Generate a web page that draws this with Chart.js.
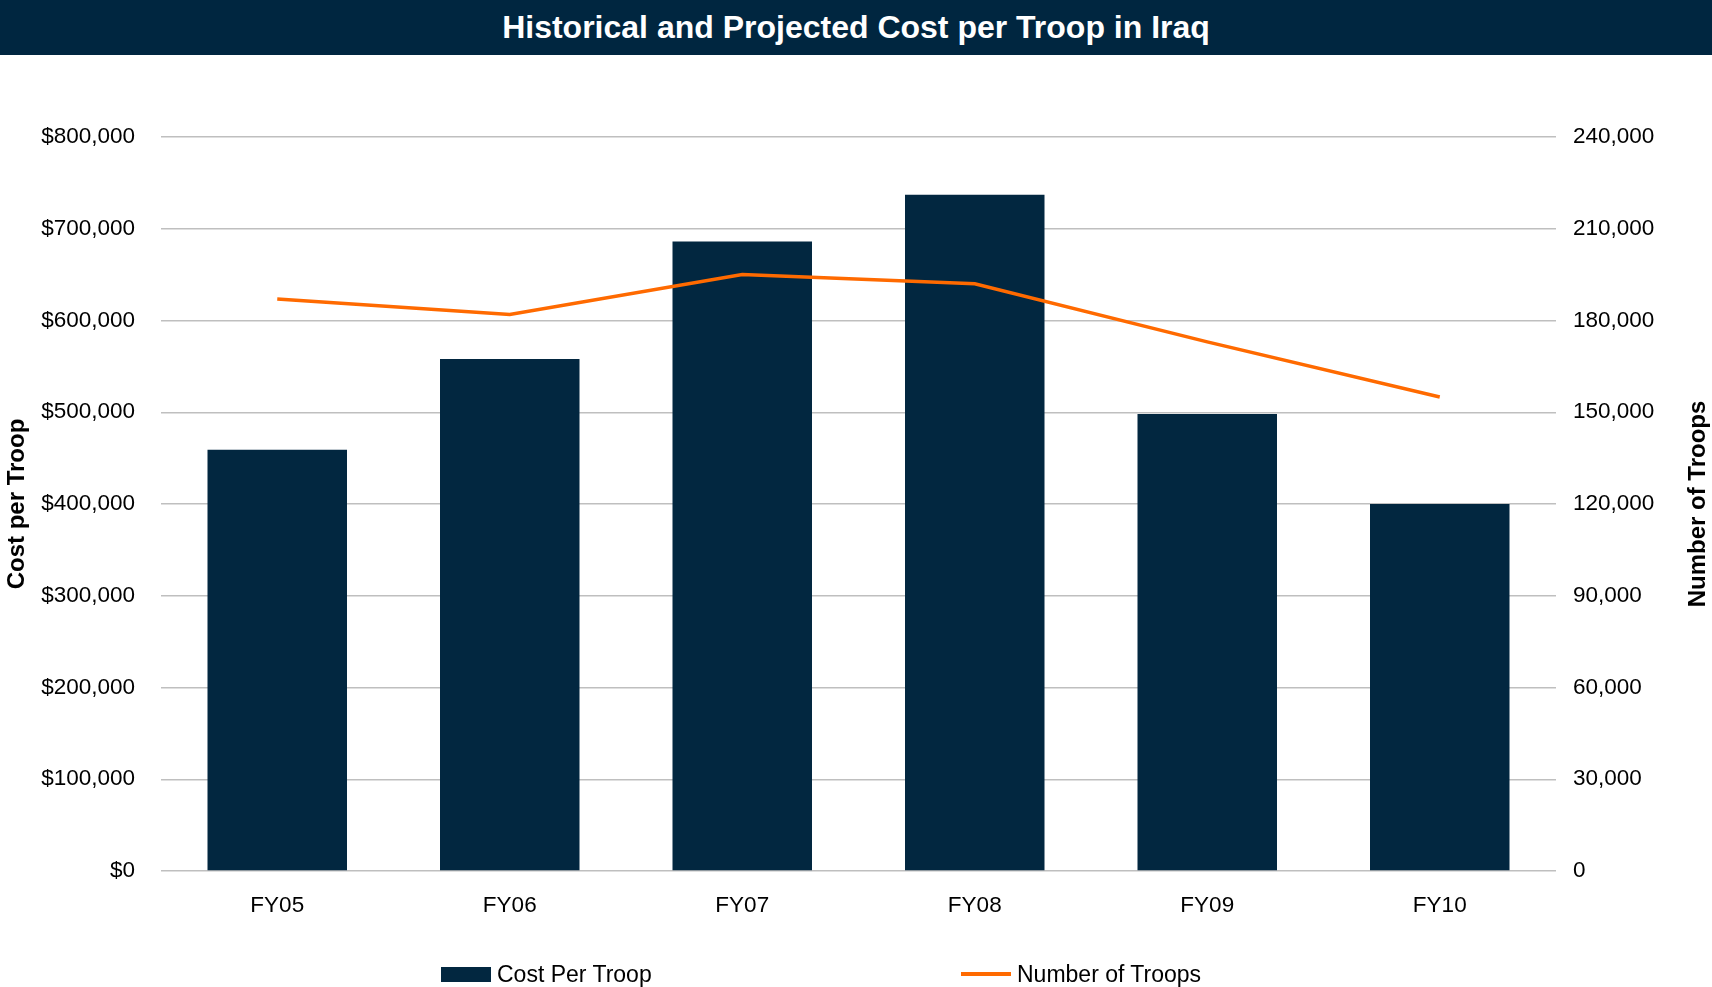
<!DOCTYPE html>
<html>
<head>
<meta charset="utf-8">
<script src="https://cdn.jsdelivr.net/npm/chart.js@4"></script>
<style>
  body { margin: 0; background: #fff; font-family: "Liberation Sans", Arial, sans-serif; }
  #titleBar { width: 1712px; height: 55px; background: #002640; color: #fff; font-weight: bold;
    font-size: 32px; line-height: 55px; text-align: center; }
  #wrap { position: relative; width: 1712px; height: 932px; }
  #legend { position: absolute; left: 0; top: 906px; width: 1712px; height: 26px; }
  .item { position: absolute; top: 0; height: 26px; display: flex; align-items: center; font-size: 23px; color: #000; }
  .swatch { width: 50px; margin-right: 6px; }
</style>
</head>
<body>
<div id="titleBar">Historical and Projected Cost per Troop in Iraq</div>
<div id="wrap">
  <canvas id="myChart" width="1712" height="932"></canvas>
  <div id="legend"></div>
</div>
<script>
const categories = ['FY05', 'FY06', 'FY07', 'FY08', 'FY09', 'FY10'];
const costPerTroop = [459000, 558000, 686000, 737000, 498000, 400000];
const numberOfTroops = [187000, 182000, 195000, 192000, 173000, 155000];
const costTicks = [0, 100000, 200000, 300000, 400000, 500000, 600000, 700000, 800000];
const troopTicks = [0, 30000, 60000, 90000, 120000, 150000, 180000, 210000, 240000];

const navy = '#022740';
const orange = '#FF6A00';
const tickFont = { family: '"Liberation Sans", Arial, sans-serif', size: 22.5 };
const titleFont = { family: '"Liberation Sans", Arial, sans-serif', size: 24, weight: 'bold' };

// right axis title reads bottom to top in the original, chart.js turns it the other way
const rightTitle = {
  id: 'rightTitle',
  afterDraw(c) {
    const s = c.scales.y1;
    const ctx = c.ctx;
    ctx.save();
    ctx.translate(1698, (s.top + s.bottom) / 2);
    ctx.rotate(-Math.PI / 2);
    ctx.font = 'bold 24px "Liberation Sans", Arial, sans-serif';
    ctx.fillStyle = '#000';
    ctx.textAlign = 'center';
    ctx.textBaseline = 'middle';
    ctx.fillText('Number of Troops', 0, 0);
    ctx.restore();
  }
};

const myChart = document.getElementById('myChart');

let chart = new Chart(myChart, {
  data: {
    labels: categories,
    datasets: [{
      type: 'line',
      label: 'Number of Troops',
      data: numberOfTroops,
      yAxisID: 'y1',
      borderColor: orange,
      backgroundColor: orange,
      borderWidth: 3.5,
      pointRadius: 0,
      tension: 0,
      order: 0
    }, {
      type: 'bar',
      label: 'Cost Per Troop',
      data: costPerTroop,
      yAxisID: 'y',
      backgroundColor: navy,
      categoryPercentage: 1,
      barPercentage: 0.6,
      order: 1
    }]
  },
  options: {
    responsive: false,
    animation: false,
    layout: { padding: { top: 82, bottom: 55, left: 0, right: 0 } },
    plugins: { legend: { display: false }, tooltip: { enabled: false } },
    scales: {
      x: {
        grid: { display: false },
        border: { display: false },
        ticks: { font: tickFont, color: '#000', padding: 13 }
      },
      y: {
        position: 'left',
        min: 0,
        max: costTicks[costTicks.length - 1],
        afterBuildTicks: s => { s.ticks = costTicks.map(v => ({ value: v })); },
        afterFit: s => { s.width = 161; },
        grid: { color: '#BFBFBF', lineWidth: 1.5, drawTicks: false },
        border: { display: false },
        ticks: {
          font: tickFont, color: '#000', padding: 26,
          callback: v => '$' + Number(v).toLocaleString('en-US')
        },
        title: { display: true, text: 'Cost per Troop', font: titleFont, color: '#000', padding: { top: 3, bottom: 0 } }
      },
      y1: {
        position: 'right',
        min: 0,
        max: troopTicks[troopTicks.length - 1],
        afterBuildTicks: s => { s.ticks = troopTicks.map(v => ({ value: v })); },
        afterFit: s => { s.width = 156; },
        grid: { display: false, drawTicks: false },
        border: { display: false },
        ticks: {
          font: tickFont, color: '#000', padding: 17,
          callback: v => Number(v).toLocaleString('en-US')
        }
      }
    }
  },
  plugins: [rightTitle]
});

// legend drawn as html, items far apart like the original
const legend = document.getElementById('legend');
const legendItems = [
  { label: chart.data.datasets[1].label, color: navy, h: 15, left: 441 },
  { label: chart.data.datasets[0].label, color: orange, h: 3.5, left: 961 }
];
legendItems.forEach(it => {
  const d = document.createElement('div');
  d.className = 'item';
  d.style.left = it.left + 'px';
  d.innerHTML = '<span class="swatch" style="height:' + it.h + 'px;background:' + it.color + '"></span>' + it.label;
  legend.appendChild(d);
});
</script>
</body>
</html>
